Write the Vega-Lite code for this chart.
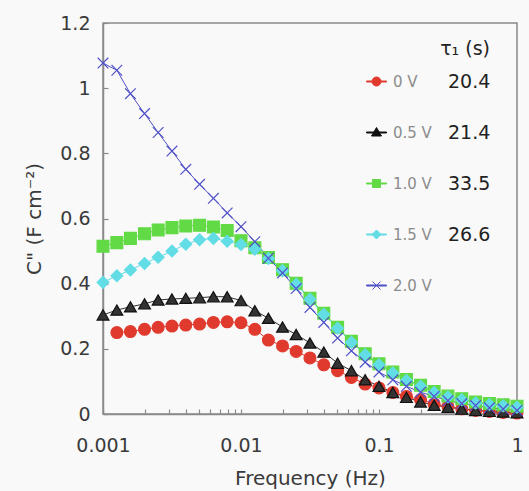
{
  "$schema": "https://vega.github.io/schema/vega-lite/v6.json",
  "width": 414,
  "height": 391,
  "autosize": {"type": "none"},
  "padding": {"left": 103, "top": 23, "right": 12, "bottom": 77},
  "background": "#f9f9f9",
  "config": {
    "font": "DejaVu Sans",
    "view": {"stroke": "#8a8a8a", "strokeWidth": 1.5},
    "axis": {"domainColor": "#8a8a8a", "domainWidth": 1.5, "tickColor": "#8a8a8a", "tickWidth": 1.2, "grid": false, "labelFont": "DejaVu Sans", "labelFontSize": 19, "labelColor": "#3a3a3a", "titleFont": "DejaVu Sans", "titleFontSize": 20, "titleFontWeight": "normal", "titleColor": "#3a3a3a"}
  },
  "datasets": {
    "pts": [
      {"s": "0 V", "f": 0.00126, "c": 0.250}, {"s": "0 V", "f": 0.00158, "c": 0.253}, {"s": "0 V", "f": 0.002, "c": 0.260}, {"s": "0 V", "f": 0.00251, "c": 0.266}, {"s": "0 V", "f": 0.00316, "c": 0.270}, {"s": "0 V", "f": 0.00398, "c": 0.273}, {"s": "0 V", "f": 0.00501, "c": 0.276}, {"s": "0 V", "f": 0.00631, "c": 0.281}, {"s": "0 V", "f": 0.00794, "c": 0.283}, {"s": "0 V", "f": 0.01, "c": 0.280},
      {"s": "0 V", "f": 0.0126, "c": 0.260}, {"s": "0 V", "f": 0.0158, "c": 0.227}, {"s": "0 V", "f": 0.02, "c": 0.209}, {"s": "0 V", "f": 0.0251, "c": 0.192}, {"s": "0 V", "f": 0.0316, "c": 0.172}, {"s": "0 V", "f": 0.0398, "c": 0.151}, {"s": "0 V", "f": 0.0501, "c": 0.133}, {"s": "0 V", "f": 0.0631, "c": 0.112}, {"s": "0 V", "f": 0.0794, "c": 0.092}, {"s": "0 V", "f": 0.1, "c": 0.080},
      {"s": "0 V", "f": 0.126, "c": 0.066}, {"s": "0 V", "f": 0.158, "c": 0.054}, {"s": "0 V", "f": 0.2, "c": 0.044}, {"s": "0 V", "f": 0.251, "c": 0.031}, {"s": "0 V", "f": 0.316, "c": 0.023}, {"s": "0 V", "f": 0.398, "c": 0.016}, {"s": "0 V", "f": 0.501, "c": 0.011}, {"s": "0 V", "f": 0.631, "c": 0.008}, {"s": "0 V", "f": 0.794, "c": 0.005}, {"s": "0 V", "f": 1, "c": 0.003},

      {"s": "0.5 V", "f": 0.001, "c": 0.304}, {"s": "0.5 V", "f": 0.00126, "c": 0.319}, {"s": "0.5 V", "f": 0.00158, "c": 0.329}, {"s": "0.5 V", "f": 0.002, "c": 0.338}, {"s": "0.5 V", "f": 0.00251, "c": 0.350}, {"s": "0.5 V", "f": 0.00316, "c": 0.353}, {"s": "0.5 V", "f": 0.00398, "c": 0.355}, {"s": "0.5 V", "f": 0.00501, "c": 0.357}, {"s": "0.5 V", "f": 0.00631, "c": 0.360}, {"s": "0.5 V", "f": 0.00794, "c": 0.360}, {"s": "0.5 V", "f": 0.01, "c": 0.348},
      {"s": "0.5 V", "f": 0.0126, "c": 0.317}, {"s": "0.5 V", "f": 0.0158, "c": 0.294}, {"s": "0.5 V", "f": 0.02, "c": 0.267}, {"s": "0.5 V", "f": 0.0251, "c": 0.244}, {"s": "0.5 V", "f": 0.0316, "c": 0.218}, {"s": "0.5 V", "f": 0.0398, "c": 0.190}, {"s": "0.5 V", "f": 0.0501, "c": 0.156}, {"s": "0.5 V", "f": 0.0631, "c": 0.133}, {"s": "0.5 V", "f": 0.0794, "c": 0.105}, {"s": "0.5 V", "f": 0.1, "c": 0.085},
      {"s": "0.5 V", "f": 0.126, "c": 0.066}, {"s": "0.5 V", "f": 0.158, "c": 0.051}, {"s": "0.5 V", "f": 0.2, "c": 0.037}, {"s": "0.5 V", "f": 0.251, "c": 0.027}, {"s": "0.5 V", "f": 0.316, "c": 0.021}, {"s": "0.5 V", "f": 0.398, "c": 0.015}, {"s": "0.5 V", "f": 0.501, "c": 0.011}, {"s": "0.5 V", "f": 0.631, "c": 0.008}, {"s": "0.5 V", "f": 0.794, "c": 0.006}, {"s": "0.5 V", "f": 1, "c": 0.004},

      {"s": "1.0 V", "f": 0.001, "c": 0.515}, {"s": "1.0 V", "f": 0.00126, "c": 0.526}, {"s": "1.0 V", "f": 0.00158, "c": 0.539}, {"s": "1.0 V", "f": 0.002, "c": 0.553}, {"s": "1.0 V", "f": 0.00251, "c": 0.565}, {"s": "1.0 V", "f": 0.00316, "c": 0.572}, {"s": "1.0 V", "f": 0.00398, "c": 0.577}, {"s": "1.0 V", "f": 0.00501, "c": 0.579}, {"s": "1.0 V", "f": 0.00631, "c": 0.574}, {"s": "1.0 V", "f": 0.00794, "c": 0.563}, {"s": "1.0 V", "f": 0.01, "c": 0.532},
      {"s": "1.0 V", "f": 0.0126, "c": 0.510}, {"s": "1.0 V", "f": 0.0158, "c": 0.480}, {"s": "1.0 V", "f": 0.02, "c": 0.443}, {"s": "1.0 V", "f": 0.0251, "c": 0.401}, {"s": "1.0 V", "f": 0.0316, "c": 0.355}, {"s": "1.0 V", "f": 0.0398, "c": 0.309}, {"s": "1.0 V", "f": 0.0501, "c": 0.266}, {"s": "1.0 V", "f": 0.0631, "c": 0.223}, {"s": "1.0 V", "f": 0.0794, "c": 0.185}, {"s": "1.0 V", "f": 0.1, "c": 0.154},
      {"s": "1.0 V", "f": 0.126, "c": 0.129}, {"s": "1.0 V", "f": 0.158, "c": 0.106}, {"s": "1.0 V", "f": 0.2, "c": 0.088}, {"s": "1.0 V", "f": 0.251, "c": 0.069}, {"s": "1.0 V", "f": 0.316, "c": 0.055}, {"s": "1.0 V", "f": 0.398, "c": 0.047}, {"s": "1.0 V", "f": 0.501, "c": 0.037}, {"s": "1.0 V", "f": 0.631, "c": 0.032}, {"s": "1.0 V", "f": 0.794, "c": 0.028}, {"s": "1.0 V", "f": 1, "c": 0.024},

      {"s": "1.5 V", "f": 0.001, "c": 0.404}, {"s": "1.5 V", "f": 0.00126, "c": 0.424}, {"s": "1.5 V", "f": 0.00158, "c": 0.442}, {"s": "1.5 V", "f": 0.002, "c": 0.462}, {"s": "1.5 V", "f": 0.00251, "c": 0.481}, {"s": "1.5 V", "f": 0.00316, "c": 0.500}, {"s": "1.5 V", "f": 0.00398, "c": 0.521}, {"s": "1.5 V", "f": 0.00501, "c": 0.535}, {"s": "1.5 V", "f": 0.00631, "c": 0.539}, {"s": "1.5 V", "f": 0.00794, "c": 0.530}, {"s": "1.5 V", "f": 0.01, "c": 0.520},
      {"s": "1.5 V", "f": 0.0126, "c": 0.506}, {"s": "1.5 V", "f": 0.0158, "c": 0.477}, {"s": "1.5 V", "f": 0.02, "c": 0.440}, {"s": "1.5 V", "f": 0.0251, "c": 0.398}, {"s": "1.5 V", "f": 0.0316, "c": 0.352}, {"s": "1.5 V", "f": 0.0398, "c": 0.306}, {"s": "1.5 V", "f": 0.0501, "c": 0.263}, {"s": "1.5 V", "f": 0.0631, "c": 0.220}, {"s": "1.5 V", "f": 0.0794, "c": 0.182}, {"s": "1.5 V", "f": 0.1, "c": 0.151},
      {"s": "1.5 V", "f": 0.126, "c": 0.126}, {"s": "1.5 V", "f": 0.158, "c": 0.103}, {"s": "1.5 V", "f": 0.2, "c": 0.085}, {"s": "1.5 V", "f": 0.251, "c": 0.066}, {"s": "1.5 V", "f": 0.316, "c": 0.052}, {"s": "1.5 V", "f": 0.398, "c": 0.044}, {"s": "1.5 V", "f": 0.501, "c": 0.034}, {"s": "1.5 V", "f": 0.631, "c": 0.029}, {"s": "1.5 V", "f": 0.794, "c": 0.025}, {"s": "1.5 V", "f": 1, "c": 0.021},

      {"s": "2.0 V", "f": 0.001, "c": 1.077}, {"s": "2.0 V", "f": 0.00126, "c": 1.055}, {"s": "2.0 V", "f": 0.00158, "c": 0.983}, {"s": "2.0 V", "f": 0.002, "c": 0.922}, {"s": "2.0 V", "f": 0.00251, "c": 0.864}, {"s": "2.0 V", "f": 0.00316, "c": 0.807}, {"s": "2.0 V", "f": 0.00398, "c": 0.751}, {"s": "2.0 V", "f": 0.00501, "c": 0.705}, {"s": "2.0 V", "f": 0.00631, "c": 0.662}, {"s": "2.0 V", "f": 0.00794, "c": 0.617}, {"s": "2.0 V", "f": 0.01, "c": 0.575},
      {"s": "2.0 V", "f": 0.0126, "c": 0.529}, {"s": "2.0 V", "f": 0.0158, "c": 0.478}, {"s": "2.0 V", "f": 0.02, "c": 0.433}, {"s": "2.0 V", "f": 0.0251, "c": 0.385}, {"s": "2.0 V", "f": 0.0316, "c": 0.327}, {"s": "2.0 V", "f": 0.0398, "c": 0.281}, {"s": "2.0 V", "f": 0.0501, "c": 0.233}, {"s": "2.0 V", "f": 0.0631, "c": 0.194}, {"s": "2.0 V", "f": 0.0794, "c": 0.159}, {"s": "2.0 V", "f": 0.1, "c": 0.129},
      {"s": "2.0 V", "f": 0.126, "c": 0.105}, {"s": "2.0 V", "f": 0.158, "c": 0.085}, {"s": "2.0 V", "f": 0.2, "c": 0.067}, {"s": "2.0 V", "f": 0.251, "c": 0.054}, {"s": "2.0 V", "f": 0.316, "c": 0.041}, {"s": "2.0 V", "f": 0.398, "c": 0.032}, {"s": "2.0 V", "f": 0.501, "c": 0.026}, {"s": "2.0 V", "f": 0.631, "c": 0.019}, {"s": "2.0 V", "f": 0.794, "c": 0.015}, {"s": "2.0 V", "f": 1, "c": 0.011}
    ],
    "leg": [{"s": "0 V"}, {"s": "0.5 V"}, {"s": "1.0 V"}, {"s": "1.5 V"}, {"s": "2.0 V"}],
    "tau": [{"s": "0 V", "t": "20.4"}, {"s": "0.5 V", "t": "21.4"}, {"s": "1.0 V", "t": "33.5"}, {"s": "1.5 V", "t": "26.6"}]
  },
  "layer": [
    {
      "data": {"name": "pts"},
      "encoding": {
        "x": {"field": "f", "type": "quantitative", "scale": {"type": "log", "domain": [0.001, 1], "nice": false},
          "axis": {"title": "Frequency (Hz)", "values": [0.001, 0.002, 0.003, 0.004, 0.005, 0.006, 0.007, 0.008, 0.009, 0.01, 0.02, 0.03, 0.04, 0.05, 0.06, 0.07, 0.08, 0.09, 0.1, 0.2, 0.3, 0.4, 0.5, 0.6, 0.7, 0.8, 0.9, 1],
            "labelExpr": "datum.value == 0.001 ? '0.001' : datum.value == 0.01 ? '0.01' : datum.value == 0.1 ? '0.1' : datum.value == 1 ? '1' : ''",
            "labelOverlap": false, "labelFlush": false, "tickSize": -5, "labelPadding": 27, "titlePadding": 13}},
        "y": {"field": "c", "type": "quantitative", "scale": {"domain": [0, 1.2], "nice": false},
          "axis": {"title": "C\" (F cm⁻²)", "values": [0, 0.2, 0.4, 0.6, 0.8, 1, 1.2], "format": ".1~f", "tickSize": -5, "labelPadding": 18, "titlePadding": 15}}
      },
      "layer": [
        {
          "mark": {"type": "line", "strokeWidth": 1},
          "encoding": {
            "color": {"field": "s", "type": "nominal", "scale": {"domain": ["0 V", "0.5 V", "1.0 V", "1.5 V", "2.0 V"], "range": ["#e03a2e", "#333333", "#62da45", "#62dde6", "#5050c8"]}, "legend": null},
            "order": {"field": "f", "type": "quantitative"}
          }
        },
        {
          "mark": {"type": "point", "filled": true, "size": 140, "strokeWidth": 1.2, "opacity": 1},
          "encoding": {
            "color": {"field": "s", "type": "nominal", "scale": {"domain": ["0 V", "0.5 V", "1.0 V", "1.5 V", "2.0 V"], "range": ["#e03a2e", "#111111", "#62da45", "#62dde6", "#5050c8"]}, "legend": null},
            "stroke": {"field": "s", "type": "nominal", "scale": {"domain": ["0 V", "0.5 V", "1.0 V", "1.5 V", "2.0 V"], "range": ["#e03a2e", "#111111", "#62da45", "#62dde6", "#5050c8"]}, "legend": null},
            "shape": {"field": "s", "type": "nominal", "scale": {"domain": ["0 V", "0.5 V", "1.0 V", "1.5 V", "2.0 V"], "range": ["circle", "triangle-up", "square", "diamond", "M-0.9,-0.9L0.9,0.9M-0.9,0.9L0.9,-0.9"]}, "legend": null}
          }
        }
      ]
    },
    {
      "data": {"name": "leg"},
      "mark": {"type": "point", "filled": true, "opacity": 0, "size": 400, "strokeWidth": 1},
      "encoding": {
        "color": {"field": "s", "type": "nominal", "scale": {"domain": ["0 V", "0.5 V", "1.0 V", "1.5 V", "2.0 V"], "range": ["#e03a2e", "#111111", "#62da45", "#62dde6", "#5050c8"]},
          "legend": {"title": null, "orient": "none", "legendX": 263, "legendY": 48, "padding": 0, "rowPadding": 32, "symbolSize": 400, "symbolStrokeWidth": 1, "symbolOpacity": 1, "labelFont": "DejaVu Sans", "labelFontSize": 15, "labelColor": "#8c8c8c", "labelOffset": 6}},
        "stroke": {"field": "s", "type": "nominal", "scale": {"domain": ["0 V", "0.5 V", "1.0 V", "1.5 V", "2.0 V"], "range": ["#e03a2e", "#111111", "#62da45", "#62dde6", "#5050c8"]},
          "legend": {"title": null, "orient": "none", "legendX": 263, "legendY": 48, "padding": 0, "rowPadding": 32, "symbolSize": 400, "symbolStrokeWidth": 1, "symbolOpacity": 1, "labelFont": "DejaVu Sans", "labelFontSize": 15, "labelColor": "#8c8c8c", "labelOffset": 6}},
        "shape": {"field": "s", "type": "nominal", "scale": {"domain": ["0 V", "0.5 V", "1.0 V", "1.5 V", "2.0 V"], "range": [
            "M-1,-0.05L1,-0.05L1,0.05L-1,0.05ZM-0.45,0A0.45,0.45 0 1,1 0.45,0A0.45,0.45 0 1,1 -0.45,0Z",
            "M-1,-0.05L1,-0.05L1,0.05L-1,0.05ZM0,-0.5L0.5,0.35L-0.5,0.35Z",
            "M-1,-0.05L1,-0.05L1,0.05L-1,0.05ZM-0.4,-0.4L0.4,-0.4L0.4,0.4L-0.4,0.4Z",
            "M-1,-0.05L1,-0.05L1,0.05L-1,0.05ZM0,-0.45L0.45,0L0,0.45L-0.45,0Z",
            "M-1,-0.05L1,-0.05L1,0.05L-1,0.05ZM-0.4,-0.4L0.4,0.4M-0.4,0.4L0.4,-0.4"]},
          "legend": {"title": null, "orient": "none", "legendX": 263, "legendY": 48, "padding": 0, "rowPadding": 32, "symbolSize": 400, "symbolStrokeWidth": 1, "symbolOpacity": 1, "labelFont": "DejaVu Sans", "labelFontSize": 15, "labelColor": "#8c8c8c", "labelOffset": 6}}
      }
    },
    {
      "data": {"name": "tau"},
      "mark": {"type": "point", "filled": true, "opacity": 0, "size": 400, "strokeWidth": 1},
      "encoding": {
        "fill": {"field": "t", "type": "nominal", "scale": {"domain": ["20.4", "21.4", "33.5", "26.6"], "range": ["#ffffff", "#ffffff", "#ffffff", "#ffffff"]},
          "legend": {"title": "τ₁ (s)", "orient": "none", "legendX": 322, "legendY": 17, "padding": 0, "rowPadding": 30, "symbolSize": 400, "symbolStrokeWidth": 1, "symbolOpacity": 0, "labelFont": "DejaVu Sans", "labelFontSize": 19, "labelColor": "#222222", "labelOffset": 2, "titleFont": "DejaVu Sans", "titleFontSize": 19, "titleFontWeight": "normal", "titleColor": "#222222", "titleAnchor": "end", "titlePadding": 12}}
      }
    }
  ],
  "resolve": {"scale": {"color": "independent", "stroke": "independent", "shape": "independent", "fill": "independent"}}
}
